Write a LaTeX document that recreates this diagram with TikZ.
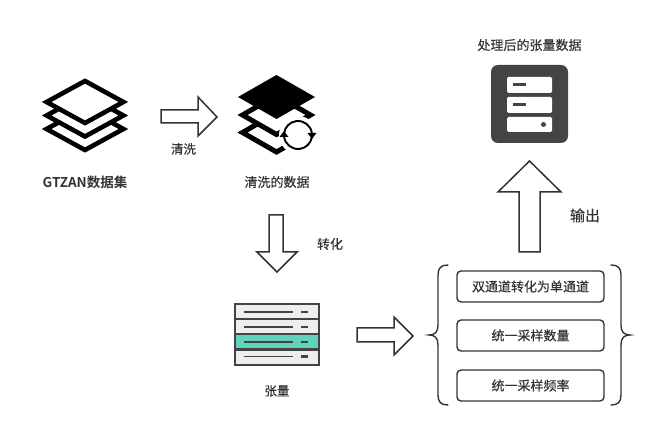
\documentclass[tikz,border=0pt]{standalone}
\usepackage{fontspec}
\setmainfont[FakeBold=0.25]{Noto Sans CJK SC}
\newfontfamily\heavyfont{Noto Sans CJK SC Bold}
\usetikzlibrary{arrows.meta}
\definecolor{ink}{HTML}{333333}
\definecolor{dark}{HTML}{444444}
\definecolor{rowfill}{HTML}{EEEEEE}
\definecolor{mint}{HTML}{5FD4BB}
\tikzset{
  lbl/.style={font=\fontsize{12.5}{14}\selectfont,text=ink,inner sep=0pt,anchor=center},
  blockarrow/.style={draw=ink,line width=1.5pt,fill=white,miter limit=10},
  procbox/.style={draw=ink,line width=1.4pt,rounded corners=4pt,fill=white,minimum width=147pt,minimum height=31pt,inner sep=0pt,font=\fontsize{13}{15}\selectfont,text=ink},
  brace/.style={draw=ink,line width=1.4pt,line cap=round},
  stack/.style={draw=black,line width=4.6pt,fill=white,miter limit=10},
  rowbox/.style={draw=dark,line width=2.5pt,fill=rowfill},
  rowline/.style={draw=dark,line width=1.8pt},
}
\begin{document}
\begin{tikzpicture}[x=1pt,y=-1pt]
\useasboundingbox (0,0) rectangle (670,435);
\fill[white] (0,0) rectangle (670,435);
% GTZAN stack
\foreach \cy in {129,115.5,102}
  \draw[stack] (85,\cy-21) -- (123.4,\cy) -- (85,\cy+21) -- (46.6,\cy) -- cycle;
% cleaned stack
\foreach \cy in {132.5,115}
  \draw[stack,line width=5pt] (276.5,\cy-19.5) -- (310.5,\cy) -- (276.5,\cy+19.5) -- (242.5,\cy) -- cycle;
\fill[black] (276.5,75) -- (315,97) -- (276.5,119) -- (238,97) -- cycle;
\fill[white] (298,135) circle (19);
\draw[black,line width=1.9pt] (298,135) ++(172:14) arc[start angle=172,end angle=8,radius=14];
\draw[black,line width=1.9pt] (298,135) ++(-8:14) arc[start angle=-8,end angle=-172,radius=14];
\fill[black] (307.5,133) -- (316.5,133) -- (312,139) -- cycle;
\fill[black] (279.5,137) -- (288.5,137) -- (284,131) -- cycle;
% tensor icon
\foreach \ya/\yb/\c in {304/319/rowfill,319/334/rowfill,334/349.5/mint,349.5/365/rowfill}
  \draw[rowbox,fill=\c] (235,\ya) rectangle (319,\yb);
\foreach \y in {312,327,342,356.5}{
  \draw[rowline] (244,\y) -- (293,\y);
  \draw[rowline,line width=2.2pt] (301,\y) -- (308,\y);
}
% server icon
\fill[dark,rounded corners=7pt] (491,65) rectangle (568,143);
\foreach \ya/\yb in {77/93,97/113,117/132}
  \fill[white,rounded corners=1.5pt] (507,\ya) rectangle (552,\yb);
\foreach \y in {85,105}
  \draw[dark,line width=3pt] (513,\y) -- (526,\y);
\fill[dark] (543.5,124.5) circle (2.5);
% block arrows
\draw[blockarrow] (161,110) -- (198,110) -- (198,97) -- (217,117) -- (198,136) -- (198,123) -- (161,123) -- cycle;
\draw[blockarrow] (269,215) -- (283,215) -- (283,252) -- (297,252) -- (277,272) -- (257,252) -- (269,252) -- cycle;
\draw[blockarrow] (357,328) -- (394,328) -- (394,317) -- (413,336) -- (394,355) -- (394,342) -- (357,342) -- cycle;
\draw[blockarrow] (519,252) -- (519,192) -- (498,192) -- (529.5,161) -- (561,192) -- (540,192) -- (540,252) -- cycle;
% boxes
\node[procbox] (b1) at (530.5,286.5) {双通道转化为单通道};
\node[procbox] (b2) at (530.5,335.5) {统一采样数量};
\node[procbox] (b3) at (530.5,385.5) {统一采样频率};
% braces
\draw[brace] (448,265) .. controls (441,265) and (438,268) .. (438,275) -- (438,325) .. controls (438,332) and (435,335) .. (429,335) .. controls (435,335) and (438,338) .. (438,345) -- (438,395) .. controls (438,402) and (441,405) .. (448,405);
\draw[brace] (611,265) .. controls (618,265) and (621,268) .. (621,275) -- (621,325) .. controls (621,332) and (624,335) .. (630,335) .. controls (624,335) and (621,338) .. (621,345) -- (621,395) .. controls (621,402) and (618,405) .. (611,405);
% labels
\node[lbl,font=\fontsize{13.5}{15}\selectfont\heavyfont] (t1) at (85,182) {GTZAN数据集};
\node[lbl,font=\fontsize{13}{15}\selectfont] (t2) at (277,182) {清洗的数据};
\node[lbl] (t3) at (183.5,149) {清洗};
\node[lbl,font=\fontsize{13}{15}\selectfont] (t4) at (330,244) {转化};
\node[lbl] (t5) at (277,391) {张量};
\node[lbl,font=\fontsize{15}{16}\selectfont] (t6) at (585,215.5) {输出};
\node[lbl,font=\fontsize{13}{15}\selectfont] (t7) at (529.5,45) {处理后的张量数据};
\end{tikzpicture}
\end{document}
